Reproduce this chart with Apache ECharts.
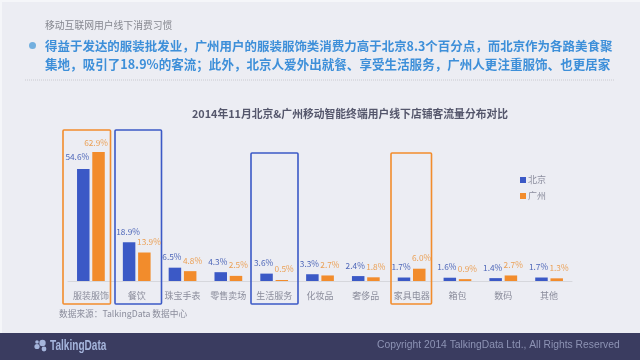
<!DOCTYPE html>
<html><head><meta charset="utf-8">
<style>html,body{margin:0;padding:0;background:#ecedf3}#c{width:640px;height:360px}</style>
<script src="https://cdn.jsdelivr.net/npm/echarts@6/dist/echarts.min.js"></script></head>
<body><div id="c"></div>
<script>
const categories=['服装服饰','餐饮','珠宝手表','零售卖场','生活服务','化妆品','奢侈品','家具电器','箱包','数码','其他'];
const beijing=[54.6,18.9,6.5,4.3,3.6,3.3,2.4,1.7,1.6,1.4,1.7];
const guangzhou=[62.9,13.9,4.8,2.5,0.5,2.7,1.8,6.0,0.9,2.7,1.3];
const beijingLabelDx=[-6,-1,-3,-3,-3,-3,-3,-3,-3,-3,-3];
const beijingLabelDy=[-2,0,0,0,0,0,0,0,0,0,0];
const guangzhouLabelDx=[-2.5,4.6,2.3,2.3,2.3,2.3,2.3,2.3,2.3,2.3,2.3];
const guangzhouLabelDy=[1,0,0,0,0,0,0,0,0,0,0];
const seriesNames=['北京','广州'];
const heading='移动互联网用户线下消费习惯';
const bodyLines=['得益于发达的服装批发业，广州用户的服装服饰类消费力高于北京8.3个百分点，而北京作为各路美食聚','集地，吸引了18.9%的客流；此外，北京人爱外出就餐、享受生活服务，广州人更注重服饰、也更居家'];
const chartTitle='2014年11月北京&广州移动智能终端用户线下店铺客流量分布对比';
const sourceNote='数据来源：TalkingData 数据中心';
const copyright='Copyright 2014 TalkingData Ltd., All Rights Reserved';
const BLUE='#3b59c6',ORANGE='#f28c2c',LOGO='#a5b5dc',CJK='"Noto Sans CJK SC","Noto Sans",sans-serif';
const box=(x,y,w,h,c)=>({type:'rect',shape:{x,y,width:w,height:h,r:1},style:{fill:'none',stroke:c,lineWidth:1.6},z:1});
const txt=(x,y,text,font,fill)=>({type:'text',x,y,style:{text,font,fill,textVerticalAlign:'middle'},z:3});
const mk=(vals,dx,dy)=>vals.map((v,i)=>({value:v,label:{offset:[dx[i],dy[i]]}}));
const chart=echarts.init(document.getElementById('c'),null,{renderer:'canvas'});
chart.setOption({
 animation:false,backgroundColor:'#ecedf3',
 title:{text:chartTitle,left:345,top:104,textAlign:'center',
  textStyle:{fontFamily:CJK,fontSize:10.8,fontWeight:'bold',color:'#55576c'}},
 legend:{orient:'vertical',left:515,top:169,itemWidth:6,itemHeight:6,itemGap:4,icon:'rect',
  textStyle:{fontFamily:CJK,fontSize:9,color:'#8c8e9e',lineHeight:12,padding:[0,0,0,-3]},data:seriesNames},
 grid:{left:68,top:137.5,width:504,height:143.5,containLabel:false},
 xAxis:{type:'category',data:categories,axisLine:{lineStyle:{color:'#d6d7dc',width:1}},axisTick:{show:false},
  axisLabel:{interval:0,fontFamily:CJK,fontSize:9,color:'#8a8c9b',margin:10}},
 yAxis:{type:'value',min:0,max:70,show:false,splitLine:{show:false}},
 series:[
  {name:seriesNames[0],type:'bar',data:mk(beijing,beijingLabelDx,beijingLabelDy),barWidth:12.5,barGap:'22%',itemStyle:{color:BLUE},
   label:{show:true,position:'top',distance:6.5,formatter:p=>p.value.toFixed(1)+'%',fontFamily:CJK,fontSize:8.3,color:'#4d66b8'}},
  {name:seriesNames[1],type:'bar',data:mk(guangzhou,guangzhouLabelDx,guangzhouLabelDy),barWidth:12.5,itemStyle:{color:ORANGE},
   label:{show:true,position:'top',distance:6.5,formatter:p=>p.value.toFixed(1)+'%',fontFamily:CJK,fontSize:8.3,color:'#eba055'}}
 ],
 graphic:[
  {type:'rect',shape:{x:0,y:333,width:640,height:27},style:{fill:'#3a3c60'},z:0},
  {type:'rect',shape:{x:0,y:0,width:640,height:2},style:{fill:'#f5f6f9'},z:0},
  {type:'rect',shape:{x:0,y:0,width:2,height:333},style:{fill:'#f5f6f9'},z:0},
  box(63,130,47.5,174,ORANGE),box(115,130,46.5,174,BLUE),box(251,153,47,151,BLUE),box(391,153,40.5,151,ORANGE),
  txt(45,25.5,heading,'9.8px '+CJK,'#85878f'),
  {type:'circle',shape:{cx:32.5,cy:45.5,r:3.5},style:{fill:'#72afdf'},z:3},
  txt(45,46,bodyLines[0],'bold 12.47px '+CJK,'#3d8fd9'),
  txt(45,64.5,bodyLines[1],'bold 12.55px '+CJK,'#3d8fd9'),
  {type:'line',shape:{x1:25,y1:80,x2:615,y2:80},style:{stroke:'#c9cad0',lineWidth:1,lineDash:[1,1]},z:3},
  txt(59,314,sourceNote,'8.7px '+CJK,'#8a8c9b'),
  {type:'circle',shape:{cx:42.5,cy:343,r:3.2},style:{fill:LOGO},z:3},
  {type:'circle',shape:{cx:37,cy:346.5,r:2.6},style:{fill:LOGO},z:3},
  {type:'circle',shape:{cx:44,cy:349,r:2.4},style:{fill:LOGO},z:3},
  {type:'circle',shape:{cx:37,cy:342,r:1.8},style:{fill:LOGO},z:3},
  Object.assign(txt(50,346,'TalkingData','bold 14px "Liberation Sans",sans-serif',LOGO),{scaleX:0.72}),
  txt(377,345.5,copyright,'10.3px "Liberation Sans",sans-serif','#8d93b4')
 ]
});
</script></body></html>
